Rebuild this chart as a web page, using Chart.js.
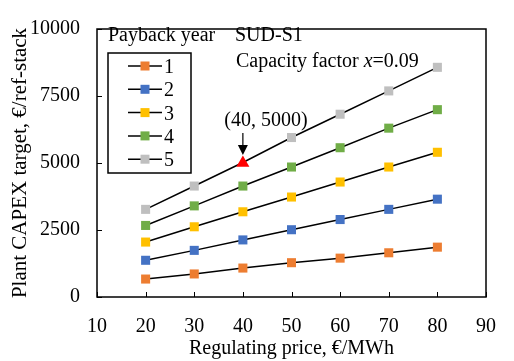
<!DOCTYPE html>
<html>
<head>
<meta charset="utf-8">
<script src="https://cdn.jsdelivr.net/npm/chart.js@4"></script>
<style>
  html, body { margin: 0; padding: 0; background: #fff; }
  #wrap { width: 514px; height: 361px; }
</style>
</head>
<body>
<div id="wrap"><canvas id="capexChart" width="514" height="361"></canvas></div>
<script>
// Regulating price (€/MWh) on the x axis
const prices = [20, 30, 40, 50, 60, 70, 80];

// Plant CAPEX target (€/ref-stack) for each payback year
const year1 = [670, 860, 1080, 1280, 1450, 1650, 1860];
const year2 = [1370, 1740, 2130, 2510, 2890, 3270, 3650];
const year3 = [2050, 2620, 3180, 3730, 4290, 4850, 5400];
const year4 = [2670, 3400, 4140, 4850, 5570, 6300, 6990];
const year5 = [3270, 4140, 5020, 5950, 6820, 7690, 8570];

const seriesLabels = ['1', '2', '3', '4', '5'];
const seriesColors = ['#ED7D31', '#4472C4', '#FFC000', '#70AD47', '#BFBFBF'];

// Highlighted point
const highlight = [40, 5000];

const xTicks = [10, 20, 30, 40, 50, 60, 70, 80, 90];
const yTicks = [0, 2500, 5000, 7500, 10000];

const FONT = '"Liberation Serif", "Times New Roman", serif';

document.addEventListener('DOMContentLoaded', function() {
    const canvas = document.getElementById('capexChart');
    const allSeries = [year1, year2, year3, year4, year5];

    const datasets = allSeries.map(function(values, i) {
        return {
            label: seriesLabels[i],
            data: values.map((v, j) => ({ x: prices[j], y: v })),
            borderColor: '#000',
            borderWidth: 1.5,
            backgroundColor: seriesColors[i],
            pointBackgroundColor: seriesColors[i],
            pointBorderColor: seriesColors[i],
            pointBorderWidth: 0,
            pointStyle: 'rect',
            // the 5th series point at 40 is covered by the red triangle
            pointRadius: values.map((v, j) => (i === 4 && prices[j] === highlight[0]) ? 0 : 6.4),
            tension: 0
        };
    });

    datasets.push({
        label: 'highlight',
        data: [{ x: highlight[0], y: highlight[1] }],
        showLine: false,
        pointStyle: 'triangle',
        pointRadius: 7.5,
        pointBackgroundColor: '#FF0000',
        pointBorderColor: '#FF0000',
        pointBorderWidth: 0,
        order: -1
    });

    // Frame, inner ticks, legend and annotations
    const decorations = {
        id: 'decorations',
        afterDraw(chart) {
            const ctx = chart.ctx;
            const a = chart.chartArea;
            const xs = chart.scales.x;
            const ys = chart.scales.y;

            ctx.save();
            ctx.strokeStyle = '#000';
            ctx.lineWidth = 1.5;
            ctx.strokeRect(a.left, a.top, a.right - a.left, a.bottom - a.top);

            ctx.lineWidth = 1;
            ctx.beginPath();
            xs.ticks.forEach(function(t) {
                const px = Math.round(xs.getPixelForValue(t.value)) + 0.5;
                ctx.moveTo(px, a.bottom);
                ctx.lineTo(px, a.bottom - 5);
            });
            ys.ticks.forEach(function(t) {
                const py = Math.round(ys.getPixelForValue(t.value)) + 0.5;
                ctx.moveTo(a.left, py);
                ctx.lineTo(a.left + 5, py);
            });
            ctx.stroke();

            // legend box
            ctx.lineWidth = 1.5;
            ctx.strokeRect(108, 53, 83, 120);
            ctx.font = '20px ' + FONT;
            ctx.fillStyle = '#000';
            ctx.textBaseline = 'alphabetic';
            seriesLabels.forEach(function(lbl, i) {
                const cy = 66 + i * 23.3;
                ctx.beginPath();
                ctx.moveTo(128, cy);
                ctx.lineTo(162, cy);
                ctx.strokeStyle = '#000';
                ctx.lineWidth = 1.5;
                ctx.stroke();
                ctx.fillStyle = seriesColors[i];
                ctx.fillRect(140.5, cy - 4.5, 9, 9);
                ctx.fillStyle = '#000';
                ctx.textAlign = 'left';
                ctx.fillText(lbl, 164, cy + 7);
            });

            ctx.textAlign = 'left';
            ctx.fillText('Payback year', 108, 41);
            ctx.fillText('SUD-S1', 235, 41);

            // "Capacity factor x=0.09" with italic x
            let tx = 236;
            const base = 67;
            const part1 = 'Capacity factor ';
            ctx.fillText(part1, tx, base);
            tx += ctx.measureText(part1).width;
            ctx.font = 'italic 20px ' + FONT;
            ctx.fillText('x', tx, base);
            tx += ctx.measureText('x').width;
            ctx.font = '20px ' + FONT;
            ctx.fillText('=0.09', tx, base);

            // annotation with arrow
            const hx = xs.getPixelForValue(highlight[0]);
            const hy = ys.getPixelForValue(highlight[1]);
            ctx.textAlign = 'center';
            ctx.fillText('(' + highlight[0] + ', ' + highlight[1] + ')', hx + 23, hy - 37);
            ctx.beginPath();
            ctx.moveTo(hx, hy - 30);
            ctx.lineTo(hx, hy - 15);
            ctx.lineWidth = 1.2;
            ctx.stroke();
            ctx.beginPath();
            ctx.moveTo(hx - 5, hy - 18);
            ctx.lineTo(hx + 5, hy - 18);
            ctx.lineTo(hx, hy - 8);
            ctx.closePath();
            ctx.fill();
            ctx.restore();
        }
    };

    new Chart(canvas, {
        type: 'line',
        data: { datasets: datasets },
        options: {
            responsive: false,
            animation: false,
            layout: { padding: { left: 0, right: 23, top: 21, bottom: 0 } },
            plugins: {
                legend: { display: false },
                tooltip: { enabled: false }
            },
            scales: {
                x: {
                    type: 'linear',
                    min: 10,
                    max: 90,
                    afterBuildTicks: function(scale) {
                        scale.ticks = xTicks.map(v => ({ value: v }));
                    },
                    afterFit: function(scale) { scale.height = 64; },
                    grid: { display: false, drawTicks: false },
                    border: { display: false },
                    ticks: {
                        color: '#000',
                        padding: 18,
                        maxRotation: 0,
                        font: { family: FONT, size: 20 }
                    },
                    title: {
                        display: true,
                        text: 'Regulating price, €/MWh',
                        color: '#000',
                        padding: { top: 0, bottom: 0 },
                        font: { family: FONT, size: 20 }
                    }
                },
                y: {
                    min: 0,
                    max: 10000,
                    afterBuildTicks: function(scale) {
                        scale.ticks = yTicks.map(v => ({ value: v }));
                    },
                    afterFit: function(scale) { scale.width = 97; },
                    grid: { display: false, drawTicks: false },
                    border: { display: false },
                    ticks: {
                        color: '#000',
                        padding: 17,
                        callback: v => String(v),
                        font: { family: FONT, size: 20 }
                    },
                    title: {
                        display: true,
                        text: 'Plant CAPEX target, €/ref-stack',
                        color: '#000',
                        padding: { top: 8, bottom: 0 },
                        font: { family: FONT, size: 21 }
                    }
                }
            }
        },
        plugins: [decorations]
    });
});
</script>
</body>
</html>
